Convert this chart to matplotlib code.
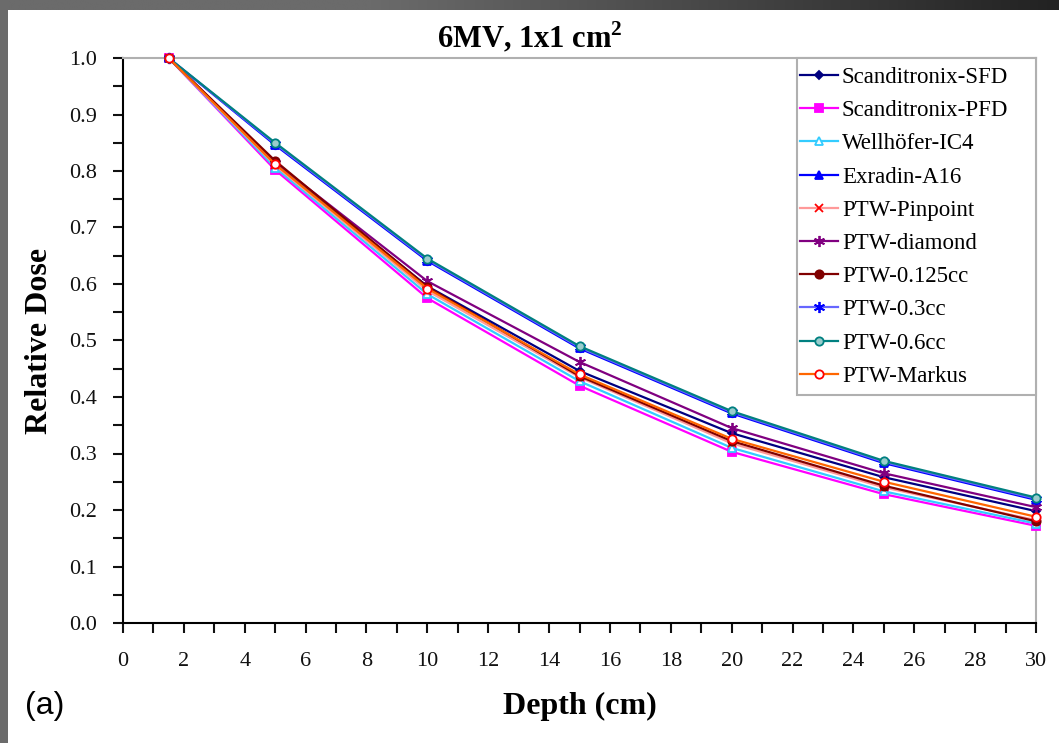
import matplotlib
matplotlib.use('Agg')
import matplotlib.pyplot as plt
import matplotlib as mpl
import numpy as np
from matplotlib.colors import LinearSegmentedColormap
from matplotlib.patches import Rectangle
from matplotlib.ticker import MultipleLocator, FormatStrFormatter

# ===== 数据 =====
depths = [1.5, 5, 10, 15, 20, 25, 30]

sfd      = [1.0, 0.812, 0.596, 0.446, 0.336, 0.258, 0.198]
pfd      = [1.0, 0.802, 0.575, 0.420, 0.303, 0.228, 0.172]
ic4      = [1.0, 0.806, 0.582, 0.428, 0.310, 0.233, 0.176]
a16      = [1.0, 0.846, 0.641, 0.486, 0.371, 0.283, 0.218]
pinpoint = [1.0, 0.810, 0.588, 0.435, 0.318, 0.240, 0.182]
diamond  = [1.0, 0.815, 0.605, 0.462, 0.345, 0.265, 0.205]
cc0125   = [1.0, 0.818, 0.595, 0.437, 0.322, 0.243, 0.180]
cc03     = [1.0, 0.848, 0.643, 0.488, 0.373, 0.285, 0.220]
cc06     = [1.0, 0.850, 0.645, 0.490, 0.375, 0.287, 0.222]
markus   = [1.0, 0.812, 0.592, 0.440, 0.326, 0.250, 0.188]

labels = ['Scanditronix-SFD', 'Scanditronix-PFD', 'Wellhöfer-IC4', 'Exradin-A16',
          'PTW-Pinpoint', 'PTW-diamond', 'PTW-0.125cc', 'PTW-0.3cc',
          'PTW-0.6cc', 'PTW-Markus']
series = [sfd, pfd, ic4, a16, pinpoint, diamond, cc0125, cc03, cc06, markus]

# 样式: (线色, 标记, 标记大小, 填充色, 边框色)
STYLES = [
    ('#000080', 'D', 4, '#000080', '#000080'),
    ('#FF00FF', 's', 6, '#FF00FF', '#FF00FF'),
    ('#33CCFF', '^', 6, 'white', '#33CCFF'),
    ('#0000FF', '^', 6, '#0000FF', '#0000FF'),
    ('#FF9999', 'x', 6, '#FF0000', '#FF0000'),
    ('#800080', (6, 2, 0), 8, '#800080', '#800080'),
    ('#800000', 'o', 6, '#800000', '#800000'),
    ('#6666FF', (6, 2, 0), 8, '#0000FF', '#0000FF'),
    ('#008080', 'o', 6, '#99CCCC', '#008080'),
    ('#FF6600', 'o', 6, 'white', '#FF0000'),
]

SERIF = ['Liberation Serif', 'DejaVu Serif']

mpl.rcParams.update({
    'font.family': SERIF,
    'font.size': 16,
    'mathtext.fontset': 'custom',
    'mathtext.rm': 'Liberation Serif',
    'mathtext.bf': 'Liberation Serif:bold',
    'axes.linewidth': 1.5,
    'xtick.color': '#111111',
    'ytick.color': '#111111',
    'xtick.labelsize': 16,
    'ytick.labelsize': 16,
    'xtick.direction': 'out',
    'ytick.direction': 'out',
})

fig = plt.figure(figsize=(10.59, 7.43), dpi=100)
fig.patch.set_facecolor('white')
ax = fig.add_axes([123 / 1059, 1 - 623 / 743, (1036 - 123) / 1059, (623 - 58) / 743])

for vals, lab, (lc, mk, ms, mfc, mec) in zip(series, labels, STYLES):
    ax.plot(depths, vals, color=lc, linewidth=1.6, marker=mk, markersize=ms,
            markerfacecolor=mfc, markeredgecolor=mec, markeredgewidth=1.3,
            label=lab, clip_on=False, zorder=3)

ax.set_xlim(0, 30)
ax.set_ylim(0, 1.0)
ax.xaxis.set_major_locator(MultipleLocator(2))
ax.xaxis.set_minor_locator(MultipleLocator(1))
ax.yaxis.set_major_locator(MultipleLocator(0.1))
ax.yaxis.set_minor_locator(MultipleLocator(0.05))
ax.yaxis.set_major_formatter(FormatStrFormatter('%.1f'))
ax.tick_params(which='both', length=7, width=1.5)
ax.tick_params(axis='x', pad=14)
ax.tick_params(axis='y', pad=11.5)

# 边框: 上/右灰色
for s in ['top', 'right']:
    ax.spines[s].set_color('#B0B0B0')
    ax.spines[s].set_linewidth(1.5)

ax.set_xlabel('Depth (cm)', fontsize=23, fontweight='bold')
ax.set_ylabel('Relative Dose', fontsize=23, fontweight='bold')
ax.xaxis.set_label_coords(0.5, (623 - 706) / 565)
ax.yaxis.set_label_coords((40 - 123) / 913, 0.5)
for lbl in (ax.xaxis.label, ax.yaxis.label):
    lbl.set_va('center')

fig.text(0.5, 1 - 37 / 743, '6MV, 1x1 cm$^\\mathbf{2}$', ha='center', va='center',
         fontsize=22, fontweight='bold', family=SERIF)
fig.text(25 / 1059, 1 - 706 / 743, '(a)', ha='left', va='center', fontsize=23,
         family=['Liberation Sans', 'DejaVu Sans'])

# 图例: 单独画框, 右侧留白与原图一致
leg_x0 = (797 - 123) / 913
leg_y0 = (623 - 395) / 565
ax.add_patch(Rectangle((leg_x0, leg_y0), 1 - leg_x0, 1 - leg_y0,
                       transform=ax.transAxes, facecolor='white',
                       edgecolor='#B0B0B0', linewidth=1.5, zorder=4,
                       clip_on=False))
leg = ax.legend(loc='upper left', bbox_to_anchor=(leg_x0, 1 - 6 / 565),
                borderaxespad=0, fontsize=16.5, handlelength=1.66,
                handletextpad=0.17, labelspacing=0.53, borderpad=0.13,
                frameon=False)
leg.set_zorder(5)

# 外框: 顶部渐变条与左侧灰条
cmap = LinearSegmentedColormap.from_list(
    'bar', [(0, '#6B6B6B'), (0.35, '#6B6B6B'), (1, '#222222')])
bar = fig.add_axes([0, 1 - 10 / 743, 1, 10 / 743])
bar.imshow(np.linspace(0, 1, 512)[None, :], aspect='auto', cmap=cmap)
bar.axis('off')
side = fig.add_axes([0, 0, 8 / 1059, 1])
side.set_facecolor('#6B6B6B')
side.set_xticks([])
side.set_yticks([])
for s in side.spines.values():
    s.set_visible(False)

fig.savefig('out.png', dpi=100)
